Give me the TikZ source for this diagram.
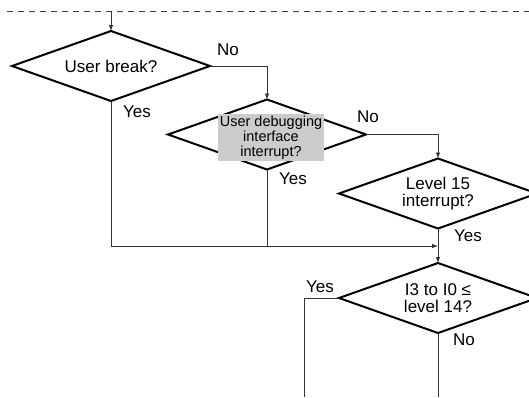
\documentclass[tikz,border=0pt]{standalone}
\usepackage{fontspec}
\setmainfont{Liberation Sans}
\usetikzlibrary{shapes.geometric,arrows.meta}
\begin{document}
\begin{tikzpicture}[x=1pt,y=-1pt,
  decision/.style={diamond,draw=black,line width=2pt,minimum width=198pt,minimum height=70pt,
     aspect=2.83,inner sep=0pt,outer sep=0pt,align=center,
     font=\fontsize{17}{16.5}\selectfont},
  conn/.style={draw=black!80,line width=0.9pt},
  arr/.style={conn,-{Latex[length=6pt,width=4.5pt]}},
  lbl/.style={font=\fontsize{17}{17}\selectfont,inner sep=0pt},
  graybox/.style={fill=black!20,inner sep=0pt,minimum width=106pt,minimum height=47pt,align=center,
     font=\fontsize{14.5}{15}\selectfont}]
\useasboundingbox (0,0) rectangle (529,397);
\clip (0,0) rectangle (529,397);
\draw[black!75,line width=0.9pt,dash pattern=on 6pt off 5pt] (7,11) -- (529,11);
\coordinate (top) at (111,11);
\node[decision] (d1) at (111,66) {User break?};
\node[decision] (d2) at (267,134.5) {};
\node[graybox] (g2) at (271,137.5) {User debugging\\interface\\interrupt?};
\node[decision] (d3) at (438,193.5) {Level 15\\interrupt?};
\node[decision] (d4) at (438,298) {I3 to I0 ≤\\level 14?};
\coordinate (j) at (438,246);
\coordinate (e1) at (304,397);
\coordinate (e2) at (438,397);
\draw[arr] (top) -- (d1.north);
\draw[arr] (d1.east) -| (d2.north);
\draw[arr] (d2.east) -| (d3.north);
\draw[arr] (d1.south) |- (j);
\draw[conn] (d2.south) -- (d2.south |- j);
\draw[arr] (d3.south) -- (d4.north);
\draw[conn] (d4.west) -| (e1);
\draw[conn] (d4.south) -- (e2);
\node[lbl] (l1) at (228,50) {No};
\node[lbl] (l2) at (137,112) {Yes};
\node[lbl] (l3) at (368,117) {No};
\node[lbl] (l4) at (293,179) {Yes};
\node[lbl] (l5) at (468,236) {Yes};
\node[lbl] (l6) at (320,287) {Yes};
\node[lbl] (l7) at (464,340) {No};
\end{tikzpicture}
\end{document}
